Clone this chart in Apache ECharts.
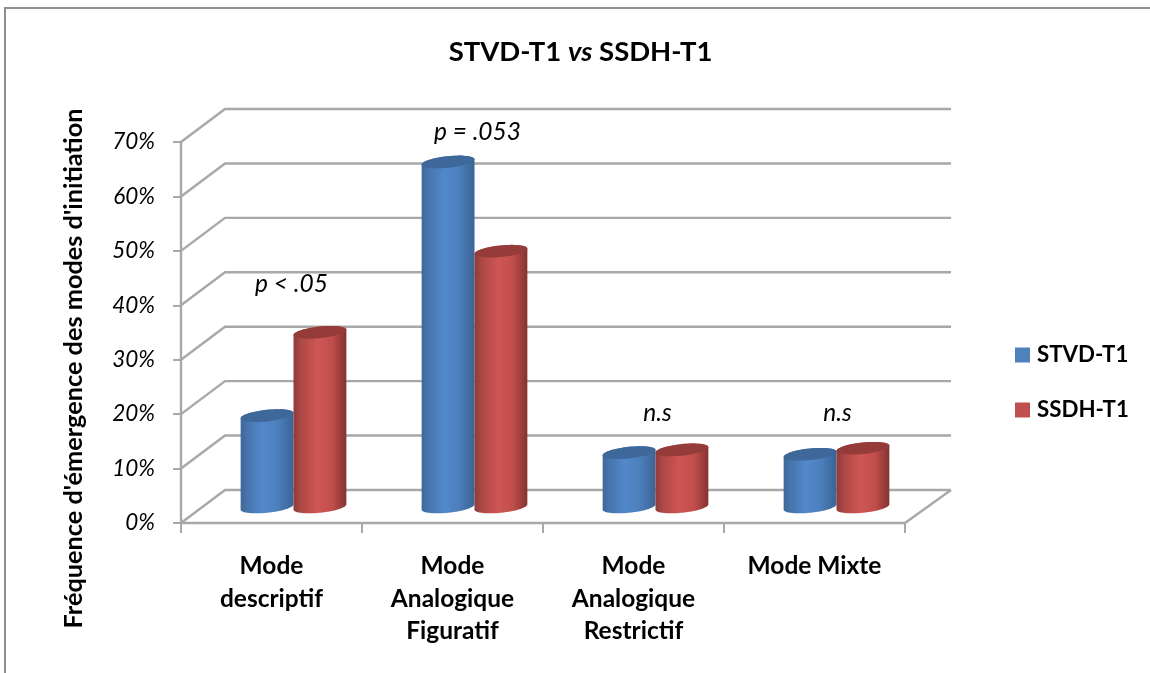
<!DOCTYPE html>
<html><head><meta charset="utf-8">
<style>html,body{margin:0;padding:0;background:#fff}#c{width:1150px;height:673px}</style>
<script src="https://cdn.jsdelivr.net/npm/echarts@6/dist/echarts.min.js"></script>
</head><body><div id="c"></div>
<script>
var categories = ['Mode\ndescriptif', 'Mode\nAnalogique\nFiguratif', 'Mode\nAnalogique\nRestrictif', 'Mode Mixte'];
var stvd = [16.7, 63.3, 9.9, 9.6];
var ssdh = [32, 46.9, 10.4, 10.7];
var yTicks = [0, 10, 20, 30, 40, 50, 60, 70];
var annotations = ['p < .05', 'p = .053', 'n.s', 'n.s'];
var annotationLevels = [43.9, 71.8, 20.2, 20.2];

var FONT = 'Lato, "Open Sans", sans-serif';
var DX = 44, DY = 33;

function gridRender(params, api) {
  var v = api.value(0);
  var a = api.coord([0, v]);
  var catW = api.size([1, 0])[0];
  var x0 = a[0] - catW / 2, w = catW * 4;
  var lw = 2.4, col = '#a8a8a8';
  var ch = [
    {type:'polyline', shape:{points:[[x0, a[1]], [x0+DX, a[1]-DY], [x0+DX+w+2, a[1]-DY]]}, style:{stroke:col, lineWidth:lw, fill:null}}
  ];
  if (v === 0) ch.push({type:'line', shape:{x1:x0+w, y1:a[1], x2:x0+w+DX+2, y2:a[1]-DY}, style:{stroke:col, lineWidth:lw}});
  return {type:'group', children:ch};
}

function cylinder(side, stops, topColor) {
  return function (params, api) {
    var i = api.value(0), v = api.value(1);
    var catW = api.size([1, 0])[0];
    var half = catW * 0.146;
    var base = api.coord([i, 0]), top = api.coord([i, v]);
    var cx = base[0] + DX / 2 + side * half;
    var by = base[1] - DY / 2 + 0.5, ty = top[1] - DY / 2;
    var b = 5.8, k = 0.10;
    function pt(t, cy) {
      var ex = half * Math.cos(t);
      return [cx + ex, cy - ex * k + b * Math.sin(t)];
    }
    var body = [], lid = [], n;
    for (n = 0; n <= 30; n++) body.push(pt(Math.PI - Math.PI * n / 30, by));
    for (n = 0; n <= 30; n++) body.push(pt(-Math.PI * n / 30, ty));
    for (n = 0; n < 60; n++) lid.push(pt(2 * Math.PI * n / 60, ty));
    return {type:'group', children:[
      {type:'polygon', shape:{points:body}, style:{fill:{type:'linear', x:0, y:0, x2:1, y2:0, colorStops:stops}}},
      {type:'polygon', shape:{points:lid}, style:{fill:topColor}}
    ]};
  };
}

function annotationRender(params, api) {
  var i = api.value(0);
  var c = api.coord([i, api.value(1)]);
  var shift = [20, 25, 24, 23][i];
  return {type:'text', x:c[0]+shift, y:c[1], style:{text:annotations[i], fontFamily:FONT, fontSize:24.5, fontStyle:'italic', fill:'#000', align:'center', verticalAlign:'middle'}};
}

var blueStops = [{offset:0,color:'#3d6899'},{offset:0.12,color:'#4674ab'},{offset:0.42,color:'#5288cb'},{offset:0.7,color:'#4c7fbc'},{offset:1,color:'#3a6495'}];
var redStops = [{offset:0,color:'#8c3c3a'},{offset:0.14,color:'#ad4846'},{offset:0.45,color:'#ce5654'},{offset:0.72,color:'#c24f4d'},{offset:1,color:'#843331'}];

var chart = echarts.init(document.getElementById('c'), null, {renderer:'canvas'});
chart.setOption({
  animation:false,
  backgroundColor:'#fff',
  title:{
    text:'{b|STVD-T1 }{i|vs}{b| SSDH-T1}', left:575.5, top:33, textAlign:'center',
    textStyle:{rich:{
      b:{fontFamily:FONT, fontSize:27.5, fontWeight:'bold', color:'#000'},
      i:{fontFamily:FONT, fontSize:27.5, fontWeight:'bold', fontStyle:'italic', color:'#000'}
    }}
  },
  legend:{
    orient:'vertical', left:1015, top:344, padding:0, itemWidth:15, itemHeight:15, itemGap:33,
    icon:'rect', data:['STVD-T1','SSDH-T1'],
    textStyle:{fontFamily:FONT, fontSize:22.3, fontWeight:'bold', color:'#000', lineHeight:15, padding:[0,0,0,2]}
  },
  grid:{left:181, right:245, top:142, bottom:150},
  xAxis:{
    type:'category', data:categories,
    axisLine:{lineStyle:{color:'#a8a8a8', width:2.4}},
    axisTick:{show:true, alignWithLabel:false, length:10, lineStyle:{color:'#a8a8a8', width:2}},
    axisLabel:{interval:0, margin:27, lineHeight:32.5, fontFamily:FONT, fontSize:24.5, fontWeight:'bold', color:'#000', align:'center', verticalAlign:'top'},
    splitLine:{show:false}
  },
  yAxis:{
    type:'value', min:0, max:70, interval:10,
    name:"Fréquence d'émergence des modes d'initiation", nameLocation:'middle', nameGap:95,
    nameTextStyle:{fontFamily:FONT, fontSize:25.3, fontWeight:'bold', color:'#000', padding:[0,72,0,0]},
    axisLine:{show:true, lineStyle:{color:'#a8a8a8', width:2.4}},
    axisTick:{show:true, length:8, lineStyle:{color:'#a8a8a8', width:2}},
    axisLabel:{formatter:'{value}%', margin:26, fontFamily:FONT, fontSize:22.5, fontStyle:'italic', color:'#000', padding:[3,0,0,0]},
    splitLine:{show:false}
  },
  graphic:[
    {type:'polyline', silent:true, z:-1, shape:{points:[[5,673],[5,8],[1150,8]]}, style:{stroke:'#8f8f8f', lineWidth:2, fill:null}}
  ],
  series:[
    {type:'custom', name:'grid', silent:true, z:1, clip:false, data:yTicks.map(function(v){return [v];}), encode:{y:0}, renderItem:gridRender},
    {type:'custom', name:'STVD-T1', z:3, clip:false, itemStyle:{color:'#4f81bd'}, data:stvd.map(function(v,i){return [i,v];}), encode:{x:0,y:1}, renderItem:cylinder(-1, blueStops, '#3d6899')},
    {type:'custom', name:'SSDH-T1', z:4, clip:false, itemStyle:{color:'#c0504d'}, data:ssdh.map(function(v,i){return [i,v];}), encode:{x:0,y:1}, renderItem:cylinder(1, redStops, '#953c3a')},
    {type:'custom', name:'annotations', z:5, clip:false, silent:true, data:annotationLevels.map(function(v,i){return [i,v];}), encode:{x:0,y:1}, renderItem:annotationRender}
  ]
});
</script></body></html>
